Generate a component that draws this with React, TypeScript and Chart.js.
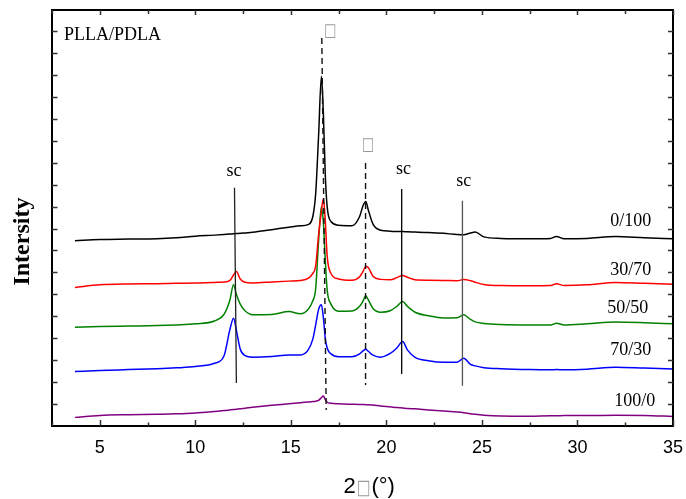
import React, { useEffect, useRef } from "react";
import { Chart, registerables } from "chart.js";

Chart.register(...registerables);

// 2θ sample positions (degrees)
const twoTheta = [3.7, 5, 6.5, 8, 9, 10, 11, 11.5, 11.8, 12.0, 12.15, 12.35, 12.6, 13, 14, 14.9, 15.5, 15.9, 16.15, 16.3, 16.45, 16.6, 16.7, 16.8, 16.9, 17.1, 17.5, 18.2, 18.6, 18.78, 18.92, 19.05, 19.3, 19.7, 20.2, 20.55, 20.85, 21.1, 21.5, 22.2, 23.0, 23.7, 24.05, 24.4, 24.65, 25.1, 26.0, 27.5, 28.6, 28.9, 29.3, 30.5, 32, 33.5, 35];

// Offset intensities (arbitrary units)
const i0_100 = [8.44, 8.50, 8.52, 8.54, 8.58, 8.65, 8.70, 8.73, 8.75, 8.76, 8.77, 8.78, 8.80, 8.83, 8.95, 9.06, 9.13, 9.18, 9.55, 10.6, 13.2, 15.95, 14.3, 11.5, 10.0, 9.32, 9.15, 9.13, 9.55, 10.05, 10.24, 9.86, 9.2, 8.92, 8.88, 8.86, 8.86, 8.85, 8.84, 8.82, 8.78, 8.73, 8.72, 8.80, 8.84, 8.62, 8.55, 8.53, 8.55, 8.64, 8.53, 8.55, 8.64, 8.58, 8.53];
const i30_70 = [6.31, 6.43, 6.47, 6.48, 6.50, 6.51, 6.54, 6.56, 6.62, 6.88, 7.04, 6.70, 6.55, 6.52, 6.56, 6.60, 6.63, 6.72, 6.95, 7.3, 8.7, 9.8, 10.36, 9.4, 7.75, 6.95, 6.70, 6.64, 6.80, 7.05, 7.27, 7.22, 6.82, 6.68, 6.66, 6.76, 6.86, 6.78, 6.66, 6.64, 6.63, 6.62, 6.67, 6.62, 6.55, 6.45, 6.40, 6.39, 6.40, 6.48, 6.40, 6.43, 6.54, 6.50, 6.46];
const i50_50 = [4.50, 4.53, 4.55, 4.57, 4.60, 4.65, 4.78, 5.08, 5.70, 6.43, 6.0, 5.55, 5.25, 5.07, 5.08, 5.21, 5.11, 5.30, 5.70, 6.25, 8.4, 10.01, 9.3, 7.6, 6.2, 5.55, 5.23, 5.24, 5.45, 5.70, 5.93, 5.75, 5.35, 5.18, 5.25, 5.45, 5.67, 5.45, 5.18, 5.02, 4.92, 4.93, 5.06, 4.85, 4.74, 4.67, 4.62, 4.60, 4.60, 4.68, 4.60, 4.65, 4.73, 4.70, 4.65];
const i70_30 = [2.47, 2.52, 2.56, 2.60, 2.64, 2.70, 2.85, 3.18, 4.35, 4.91, 4.35, 3.50, 3.20, 3.13, 3.16, 3.23, 3.23, 3.45, 3.95, 4.6, 5.3, 5.52, 4.95, 4.0, 3.55, 3.28, 3.15, 3.15, 3.28, 3.42, 3.49, 3.40, 3.22, 3.13, 3.30, 3.55, 3.84, 3.46, 3.12, 2.97, 2.90, 2.90, 3.08, 2.80, 2.73, 2.65, 2.60, 2.56, 2.55, 2.56, 2.55, 2.58, 2.67, 2.63, 2.59];
const i100_0 = [0.38, 0.47, 0.50, 0.52, 0.54, 0.58, 0.65, 0.69, 0.72, 0.74, 0.75, 0.77, 0.80, 0.84, 0.93, 1.00, 1.05, 1.08, 1.10, 1.12, 1.16, 1.28, 1.36, 1.20, 1.07, 1.02, 1.00, 0.98, 0.97, 0.97, 0.96, 0.96, 0.94, 0.90, 0.86, 0.83, 0.81, 0.79, 0.77, 0.72, 0.67, 0.62, 0.59, 0.55, 0.52, 0.48, 0.44, 0.43, 0.45, 0.45, 0.46, 0.46, 0.48, 0.47, 0.42];

const seriesNames = ["0/100", "30/70", "50/50", "70/30", "100/0"];
const seriesValues = [i0_100, i30_70, i50_50, i70_30, i100_0];
const seriesColors = ["#000000", "#ff0000", "#008000", "#0000ff", "#800080"];
// series label anchor (right end, baseline) in data units
const seriesLabelX = [33.86, 33.86, 33.7, 33.86, 34.07];
const seriesLabelY = [9.13, 6.89, 5.14, 3.23, 0.92];

const xTickLabels = [5, 10, 15, 20, 25, 30, 35];
const xMinorTicks = [2.5, 7.5, 12.5, 17.5, 22.5, 27.5, 32.5];
const yTicks = [1, 2, 3, 4, 5, 6, 7, 8, 9, 10, 11, 12, 13, 14, 15, 16, 17, 18];

// sc reflections (solid markers)
const scTopX = [12.05, 20.8, 23.98];
const scBottomX = [12.15, 20.8, 23.98];
const scTop = [10.86, 10.8, 10.27];
const scBottom = [1.95, 2.36, 1.82];
const scLabelX = [12.02, 20.89, 24.05];
const scLabelY = [11.38, 11.5, 10.92];
const scLabelText = ["sc", "sc", "sc"];

// homocrystal reflections (dashed markers)
const hcTopX = [16.62, 18.91];
const hcBottomX = [16.85, 18.91];
const hcTop = [17.7, 11.99];
const hcBottom = [0.72, 1.86];
const hcLabelX = [17.05, 19.02];
const hcLabelY = [17.78, 12.57];
const hcLabelText = ["□", "□"];

const titleText = "PLLA/PDLA";
const titleX = 3.13;
const titleY = 17.63;

const xTitleParts = ["2", "□", "(°)"];
const xTitleCenter = 19.1;
const yTitleText = "Intersity";

const X_MIN = 2.5;
const X_MAX = 35;
const Y_MIN = 0;
const Y_MAX = 19;

function drawBox(ctx: CanvasRenderingContext2D, text: string, x: number, y: number, font: string, sx: number, sy: number, align: CanvasTextAlign) {
  ctx.save();
  ctx.translate(x, y);
  ctx.scale(sx, sy);
  ctx.font = font;
  ctx.textAlign = align;
  ctx.fillText(text, 0, 0);
  ctx.restore();
}

const decorPlugin = {
  id: "decor",
  afterDatasetsDraw(chart: any) {
    const ctx: CanvasRenderingContext2D = chart.ctx;
    const xs = chart.scales.x;
    const ys = chart.scales.y;
    const ca = chart.chartArea;
    const X = (v: number) => xs.getPixelForValue(v);
    const Y = (v: number) => ys.getPixelForValue(v);
    ctx.save();

    // sc lines
    const scColors = ["#222222", "#000000", "#555555"];
    ctx.lineWidth = 1.3;
    for (let i = 0; i < scTop.length; i++) {
      ctx.strokeStyle = scColors[i];
      ctx.beginPath();
      ctx.moveTo(X(scTopX[i]), Y(scTop[i]));
      ctx.lineTo(X(scBottomX[i]), Y(scBottom[i]));
      ctx.stroke();
    }
    // dashed lines
    ctx.strokeStyle = "#111111";
    ctx.lineWidth = 1.4;
    ctx.setLineDash([6, 4]);
    for (let i = 0; i < hcTop.length; i++) {
      ctx.beginPath();
      ctx.moveTo(X(hcTopX[i]), Y(hcTop[i]));
      ctx.lineTo(X(hcBottomX[i]), Y(hcBottom[i]));
      ctx.stroke();
    }
    ctx.setLineDash([]);

    // texts
    ctx.fillStyle = "#000";
    ctx.textBaseline = "alphabetic";
    ctx.font = '18px "Liberation Serif"';
    ctx.textAlign = "center";
    for (let i = 0; i < scLabelText.length; i++) {
      ctx.fillText(scLabelText[i], X(scLabelX[i]), Y(scLabelY[i]));
    }
    ctx.textAlign = "right";
    for (let i = 0; i < seriesNames.length; i++) {
      ctx.fillText(seriesNames[i], X(seriesLabelX[i]), Y(seriesLabelY[i]));
    }
    ctx.textAlign = "left";
    ctx.fillText(titleText, X(titleX), Y(titleY));

    ctx.fillStyle = "#9a9a9a";
    for (let i = 0; i < hcLabelText.length; i++) {
      drawBox(ctx, hcLabelText[i], X(hcLabelX[i]), Y(hcLabelY[i]), '15px "DejaVu Sans"', 0.85, 1.2, "center");
    }

    // frame
    ctx.strokeStyle = "#000";
    ctx.lineWidth = 2;
    const l = Math.round(ca.left);
    const r = Math.round(ca.right);
    const t = Math.round(ca.top);
    const b = Math.round(ca.bottom);
    ctx.strokeRect(l, t, r - l, b - t);

    // ticks (inward)
    ctx.strokeStyle = "#333";
    ctx.lineWidth = 1.5;
    ctx.beginPath();
    for (const v of xTickLabels) {
      const p = Math.round(X(v)) + 0.5;
      ctx.moveTo(p, b); ctx.lineTo(p, b - 6);
      ctx.moveTo(p, t); ctx.lineTo(p, t + 5);
    }
    for (const v of xMinorTicks) {
      const p = Math.round(X(v)) + 0.5;
      ctx.moveTo(p, b); ctx.lineTo(p, b - 3.5);
      ctx.moveTo(p, t); ctx.lineTo(p, t + 4);
    }
    for (const v of yTicks) {
      const p = Math.round(Y(v)) + 0.5;
      ctx.moveTo(l, p); ctx.lineTo(l + 5.5, p);
      ctx.moveTo(r, p); ctx.lineTo(r - 5, p);
    }
    ctx.stroke();

    // y title
    ctx.save();
    ctx.fillStyle = "#000";
    ctx.font = 'bold 24px "Liberation Serif"';
    ctx.textAlign = "center";
    ctx.textBaseline = "alphabetic";
    ctx.translate(29, (ca.top + ca.bottom) / 2 + 24);
    ctx.rotate(-Math.PI / 2);
    ctx.fillText(yTitleText, 0, 0);
    ctx.restore();

    // x title
    const fMain = '22px "Liberation Sans"';
    const fBox = '16px "DejaVu Sans"';
    ctx.textAlign = "left";
    ctx.textBaseline = "alphabetic";
    ctx.font = fMain;
    const w0 = ctx.measureText(xTitleParts[0]).width;
    const w2 = ctx.measureText(xTitleParts[2]).width;
    ctx.font = fBox;
    const w1 = ctx.measureText(xTitleParts[1]).width * 0.9;
    const total = w0 + w1 + w2 + 2;
    const cx = X(xTitleCenter);
    const x0 = cx - total / 2;
    const by = 493;
    ctx.fillStyle = "#000";
    ctx.font = fMain;
    ctx.fillText(xTitleParts[0], x0, by);
    ctx.fillStyle = "#9a9a9a";
    drawBox(ctx, xTitleParts[1], x0 + w0 + 1, by + 1, fBox, 0.9, 1.3, "left");
    ctx.fillStyle = "#000";
    ctx.font = fMain;
    ctx.textAlign = "left";
    ctx.fillText(xTitleParts[2], x0 + w0 + w1 + 2, by);

    ctx.restore();
  },
};

export default function App() {
  const ref = useRef<HTMLCanvasElement | null>(null);
  useEffect(() => {
    if (!ref.current) return;
    const datasets = seriesNames.map((name, i) => ({
      label: name,
      data: twoTheta.map((x, j) => ({ x, y: seriesValues[i][j] })),
      borderColor: seriesColors[i],
      backgroundColor: seriesColors[i],
      borderWidth: 1.5,
      pointRadius: 0,
      fill: false,
      cubicInterpolationMode: "monotone" as const,
    }));
    const chart = new Chart(ref.current, {
      type: "line",
      data: { datasets },
      options: {
        animation: false,
        responsive: false,
        layout: { padding: { top: 9.5, right: 13, left: 0, bottom: 0 } },
        plugins: { legend: { display: false }, tooltip: { enabled: false } },
        scales: {
          x: {
            type: "linear",
            min: X_MIN,
            max: X_MAX,
            grid: { display: false, drawTicks: false },
            border: { display: false },
            ticks: {
              color: "#000",
              font: { family: "Liberation Sans", size: 18 },
              padding: 12,
              maxRotation: 0,
              autoSkip: false,
            },
            afterBuildTicks: (scale: any) => {
              scale.ticks = xTickLabels.map((v) => ({ value: v }));
            },
            afterFit: (scale: any) => {
              scale.height = 73.3;
              scale.paddingLeft = 0;
              scale.paddingRight = 0;
            },
          },
          y: {
            type: "linear",
            min: Y_MIN,
            max: Y_MAX,
            grid: { display: false, drawTicks: false },
            border: { display: false },
            ticks: { display: false },
            afterFit: (scale: any) => {
              scale.width = 52;
              scale.paddingTop = 0;
              scale.paddingBottom = 0;
            },
          },
        },
      },
      plugins: [decorPlugin],
    });
    return () => chart.destroy();
  }, []);
  return (
    <div style={{ position: "fixed", left: 0, top: 0, width: 686, height: 499, background: "#fff" }}>
      <canvas ref={ref} width={686} height={499} style={{ display: "block" }} />
    </div>
  );
}
